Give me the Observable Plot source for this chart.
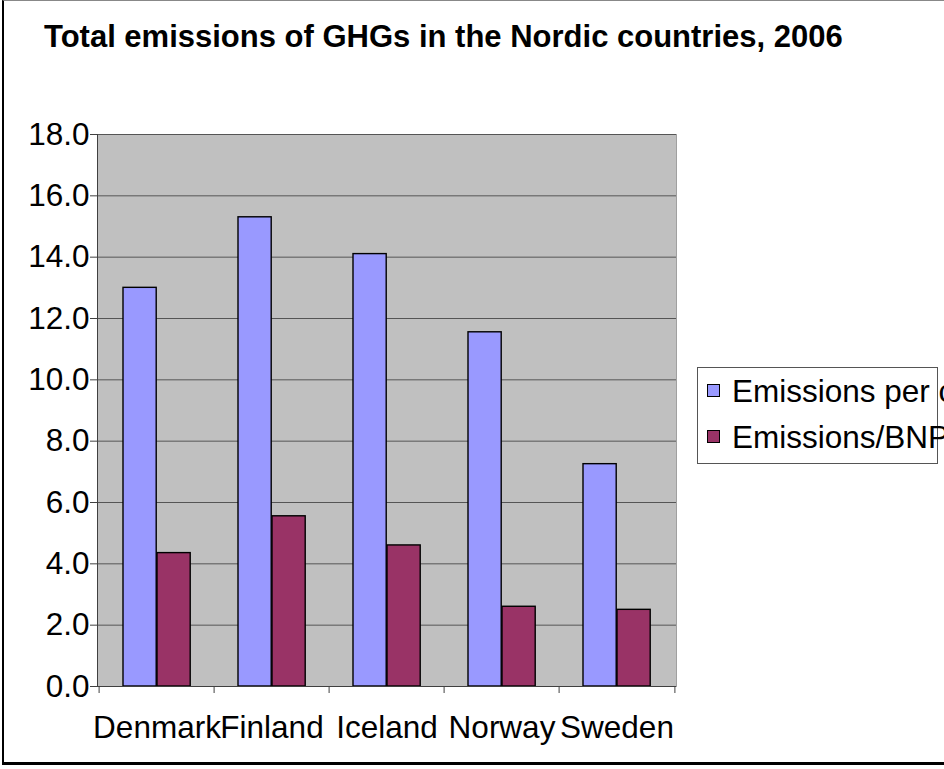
<!DOCTYPE html>
<html>
<head>
<meta charset="utf-8">
<script src="https://cdn.jsdelivr.net/npm/d3@7"></script>
<script src="https://cdn.jsdelivr.net/npm/@observablehq/plot@0.6"></script>
<style>
  html, body { margin: 0; padding: 0; background: #fff; width: 944px; height: 769px; overflow: hidden; }
  #wrap { position: relative; width: 944px; height: 769px; font-family: "Liberation Sans", Arial, sans-serif; overflow: hidden; }
  #frame { position: absolute; left: 2px; top: 0; width: 1000px; height: 765px; border-left: 2px solid #000; border-bottom: 3px solid #000; border-top: 1px solid #888; box-sizing: border-box; }
  #chart { position: absolute; left: 0; top: 0; }
  #title { position: absolute; left: 44px; top: 20.7px; font-weight: bold; font-size: 31px; line-height: 31px; white-space: nowrap; color: #000; }
  #legend { position: absolute; left: 697px; top: 367px; width: 241px; height: 97px; border: 1px solid #555; box-sizing: border-box; }
  .item { position: absolute; left: 0; white-space: nowrap; font-size: 31.5px; line-height: 31.5px; color: #000; }
  .sw { position: absolute; left: 9px; width: 13px; height: 13px; border: 1.5px solid #000; box-sizing: border-box; }
  .lab { position: absolute; left: 34px; top: 0; }
</style>
</head>
<body>
<div id="wrap">
  <div id="frame"></div>
  <div id="chart"></div>
  <div id="title"></div>
  <div id="legend"></div>
</div>
<script>
// ---- data ----
const title = "Total emissions of GHGs in the Nordic countries, 2006";
const countries = ["Denmark", "Finland", "Iceland", "Norway", "Sweden"];
const seriesNames = ["Emissions per capita", "Emissions/BNP"];
const perCapita = [13.0, 15.3, 14.1, 11.55, 7.25];
const perBNP = [4.35, 5.55, 4.6, 2.6, 2.5];
const yTicks = [0, 2, 4, 6, 8, 10, 12, 14, 16, 18];
const colors = ["#9999ff", "#993366"];

// ---- layout ----
const W = 944, H = 769;
const plotLeft = 97, plotRight = 676, plotTop = 134, plotBottom = 686;
const band = (plotRight - plotLeft) / countries.length;
const barW = 34, gapL = 24;
const fs = 31.5;

const rows1 = countries.map((c, i) => ({country: c, series: seriesNames[0], value: perCapita[i]}));
const rows2 = countries.map((c, i) => ({country: c, series: seriesNames[1], value: perBNP[i]}));

const chart = Plot.plot({
  width: W,
  height: H,
  marginLeft: plotLeft,
  marginRight: W - plotRight,
  marginTop: plotTop,
  marginBottom: H - plotBottom,
  style: {fontFamily: "'Liberation Sans', Arial, sans-serif", fontSize: fs + "px", background: "transparent", overflow: "visible", color: "#000"},
  x: {domain: countries, padding: 0, axis: null, label: null},
  y: {domain: [0, 18], axis: null, label: null},
  marks: [
    Plot.frame({fill: "#c0c0c0", stroke: "#a0a0a0"}),
    Plot.gridY(yTicks, {stroke: "#555", strokeOpacity: 1, strokeWidth: 1}),
    Plot.barY(rows1, {x: "country", y: "value", fill: colors[0], stroke: "#000", strokeWidth: 1.4,
      insetLeft: gapL, insetRight: band - gapL - barW}),
    Plot.barY(rows2, {x: "country", y: "value", fill: colors[1], stroke: "#000", strokeWidth: 1.4,
      insetLeft: gapL + barW, insetRight: band - gapL - 2 * barW}),
    Plot.frame({anchor: "left", stroke: "#404040"}),
    Plot.ruleY([0], {stroke: "#404040"}),
    Plot.axisY(yTicks, {tickSize: 7, tickPadding: 1, tickFormat: d3.format(".1f"), stroke: "#404040", fill: "#000", fontSize: fs, label: null}),
    Plot.axisX({tickSize: 0, tickPadding: 29, fontSize: fs, fill: "#000", label: null}),
    Plot.ruleX(countries, {x: d => d, y1: () => 0, y2: () => 0, insetBottom: -7, dx: -band / 2, stroke: "#404040"}),
    Plot.ruleX(countries.slice(-1), {x: d => d, y1: () => 0, y2: () => 0, insetBottom: -7, dx: band / 2, stroke: "#404040"})
  ]
});
document.getElementById("chart").appendChild(chart);

document.getElementById("title").textContent = title;

const legend = document.getElementById("legend");
seriesNames.forEach((name, i) => {
  const item = document.createElement("div");
  item.className = "item";
  item.style.top = (i * 46 + 8.3) + "px";
  const sw = document.createElement("div");
  sw.className = "sw";
  sw.style.background = colors[i];
  sw.style.top = "7.7px";
  const lab = document.createElement("span");
  lab.className = "lab";
  lab.textContent = name;
  item.appendChild(sw);
  item.appendChild(lab);
  legend.appendChild(item);
});
</script>
</body>
</html>
